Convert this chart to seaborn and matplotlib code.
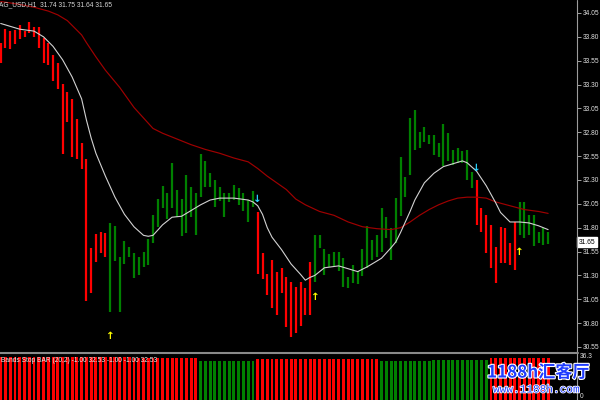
import numpy as np
import pandas as pd
import seaborn as sns
import matplotlib.pyplot as plt
from matplotlib.lines import Line2D
import matplotlib.patheffects as pe

# ---------------- data ----------------
symbol_text = "AG_USD,H1  31.74 31.75 31.64 31.65"
indicator_text = "Bands Stop BAR (20,2) -1.00 32.53 -1.00 -1.00 32.53"
last_price = 31.65

highs = [33.74, 33.88, 33.86, 33.87, 33.92, 33.86, 33.96, 33.90, 33.90, 33.79,
         33.74, 33.61, 33.53, 33.31, 33.22, 33.15, 32.94, 32.69, 32.52, 31.59,
         31.73, 31.75, 31.74, 31.85, 31.82, 31.49, 31.66, 31.60, 31.53, 31.49,
         31.55, 31.68, 31.93, 32.10, 32.24, 32.16, 32.48, 32.20, 32.10, 32.35,
         32.23, 32.16, 32.57, 32.50, 32.37, 32.30, 32.23, 32.16, 32.16, 32.25,
         32.22, 32.16, 32.09, 32.18, 31.96, 31.53, 31.32, 31.46, 31.34, 31.38,
         31.28, 31.23, 31.18, 31.23, 31.17, 31.44, 31.72, 31.72, 31.58, 31.52,
         31.55, 31.55, 31.48, 31.28, 31.41, 31.35, 31.58, 31.82, 31.67, 31.72,
         32.01, 31.91, 31.80, 32.11, 32.54, 32.33, 32.95, 33.03, 32.80, 32.86,
         32.77, 32.77, 32.69, 32.89, 32.79, 32.61, 32.64, 32.60, 32.61, 32.38,
         32.30, 32.01, 31.93, 31.83, 31.60, 31.81, 31.80, 31.64, 31.86, 32.07,
         32.07, 31.93, 31.93, 31.75, 31.80, 31.75]
lows = [33.53, 33.68, 33.67, 33.72, 33.78, 33.80, 33.84, 33.80, 33.68, 33.53,
        33.51, 33.34, 33.25, 32.57, 32.91, 32.54, 32.52, 32.42, 31.03, 31.12,
        31.44, 31.53, 31.49, 30.92, 31.45, 30.92, 31.42, 31.49, 31.27, 31.30,
        31.39, 31.41, 31.64, 31.81, 32.01, 31.89, 32.01, 31.91, 31.71, 31.74,
        31.91, 31.72, 32.12, 32.23, 32.23, 32.02, 32.08, 31.91, 32.07, 32.09,
        32.04, 31.97, 31.86, 32.02, 31.31, 31.26, 31.09, 30.96, 30.89, 31.12,
        30.76, 30.65, 30.70, 30.77, 30.89, 30.89, 31.23, 31.59, 31.30, 31.39,
        31.39, 31.35, 31.18, 31.17, 31.22, 31.21, 31.29, 31.38, 31.46, 31.49,
        31.55, 31.69, 31.46, 31.64, 31.92, 32.12, 32.35, 32.61, 32.63, 32.70,
        32.68, 32.56, 32.54, 32.45, 32.50, 32.46, 32.48, 32.48, 32.30, 32.22,
        31.83, 31.75, 31.53, 31.38, 31.22, 31.43, 31.43, 31.41, 31.36, 31.72,
        31.69, 31.72, 31.61, 31.64, 31.62, 31.63]
# trend state of each price bar (R = down / red, G = up / green)
bar_state = list("RRRRRRRRRRRRRRRRRRRRRRR"            # 0-22
                 "GGGGGGGGGGGGGGGGGGGGGGGGGGGGGGG"    # 23-53
                 "RRRRRRRRRRRR"                       # 54-65
                 "GGGGGGGGGGGGGGGGGGGGGGGGGGGGGGGGGG" # 66-99
                 "RRRRRRRRR"                          # 100-108
                 "GGGGGGG")                           # 109-115

# fast (white) moving average, read at bar indices
white_idx = [0, 4, 7, 9, 11, 13, 15, 17, 18, 19, 20, 22, 24, 26, 28, 30, 31, 32, 34, 36,
             38, 40, 42, 44, 46, 49, 52, 53, 54, 55, 56, 57, 59, 61, 63, 64, 65, 66, 68, 71,
             73, 75, 77, 80, 82, 83, 84, 85, 86, 87, 88, 89, 91, 93, 95, 97, 98, 100, 102, 104,
             105, 107, 109, 111, 113, 115]
white_ma = [33.94, 33.88, 33.86, 33.80, 33.70, 33.56, 33.38, 33.15, 32.93, 32.74,
            32.58, 32.34, 32.12, 31.94, 31.81, 31.72, 31.71, 31.72, 31.83, 31.91,
            31.92, 31.98, 32.04, 32.09, 32.11, 32.11, 32.09, 32.07, 32.03, 31.94,
            31.80, 31.70, 31.57, 31.42, 31.31, 31.25, 31.28, 31.30, 31.38, 31.40,
            31.37, 31.34, 31.39, 31.48, 31.59, 31.65, 31.75, 31.86, 31.97, 32.09,
            32.18, 32.27, 32.37, 32.44, 32.47, 32.50, 32.48, 32.39, 32.24, 32.06,
            31.96, 31.86, 31.86, 31.85, 31.82, 31.78]

# slow (dark red) moving average
red_idx = [0, 4, 7, 10, 12, 14, 16, 17, 18, 20, 22, 25, 28, 30, 32, 34, 37, 40, 43, 46,
           49, 52, 54, 56, 58, 60, 62, 64, 67, 70, 73, 76, 79, 82, 84, 86, 88, 90, 92, 94,
           96, 98, 100, 102, 104, 107, 110, 113, 115]
red_ma = [34.17, 34.14, 34.11, 34.07, 34.03, 33.97, 33.87, 33.82, 33.74, 33.59,
          33.45, 33.27, 33.06, 32.95, 32.84, 32.79, 32.73, 32.67, 32.62, 32.58,
          32.53, 32.49, 32.42, 32.34, 32.27, 32.20, 32.10, 32.04, 31.97, 31.93,
          31.86, 31.81, 31.79, 31.78, 31.80, 31.86, 31.93, 31.99, 32.04, 32.08,
          32.11, 32.12, 32.12, 32.11, 32.07, 32.03, 31.99, 31.97, 31.95]

# signal arrows
up_idx = [23, 66, 109]
up_price = [30.66, 31.07, 31.55]
down_idx = [54, 100]
down_price = [32.10, 32.43]

# lower indicator panel (Bands Stop BAR)
bottom_state = list("RRRRRRRRRRRRRRRRRRRRRRRRRRRRRRRRRRRRRRRRRR"  # 0-41
                    "GGGGGGGGGGGG"                                # 42-53
                    "RRRRRRRRRRRRRRRRRRRRRRRRRR"                  # 54-79
                    "GGGGGGGGGGGGGGGGGGGGGGG"                     # 80-102
                    "RRRRRRRRRRRRR")                              # 103-115
bottom_vals = [35.9, 35.9, 35.9, 35.9, 35.9, 35.9, 35.9, 35.9, 35.9, 35.9,
               35.9, 35.9, 35.9, 35.9, 35.4, 35.4, 35.4, 35.4, 35.4, 35.4,
               35.4, 35.4, 35.4, 35.4, 35.4, 35.4, 35.4, 35.4, 34.8, 34.8,
               34.8, 34.8, 34.8, 34.8, 34.8, 34.8, 34.8, 34.8, 34.8, 34.8,
               34.8, 34.8, 32.0, 32.0, 32.0, 32.0, 32.0, 32.0, 32.0, 32.0,
               32.0, 32.0, 32.0, 32.0, 34.2, 34.2, 34.2, 34.2, 34.2, 34.2,
               34.2, 34.2, 34.2, 34.2, 34.2, 34.2, 34.2, 34.2, 34.2, 34.2,
               34.2, 34.2, 34.2, 34.2, 34.2, 34.2, 34.2, 34.2, 34.2, 34.2,
               32.0, 32.0, 32.0, 32.0, 32.0, 32.0, 32.0, 32.0, 32.0, 32.0,
               32.0, 32.8, 32.8, 32.8, 32.8, 32.8, 32.8, 32.8, 32.8, 32.8,
               32.8, 32.8, 32.8, 34.8, 34.8, 34.8, 34.8, 34.8, 34.8, 34.8,
               34.8, 34.8, 34.8, 34.8, 34.8, 34.8]

price_ticks = [34.05, 33.80, 33.55, 33.30, 33.05, 32.80, 32.55, 32.30, 32.05,
               31.80, 31.55, 31.30, 31.05, 30.80, 30.55]
panel_ticks = ["36.3", "0"]
watermark_1 = "1188h汇客厅"
watermark_2 = "www.1188h.com"

# ---------------- styling ----------------
sns.set_theme(style="dark", rc={"axes.facecolor": "black", "figure.facecolor": "black",
                                "savefig.facecolor": "black"})
plt.rcParams["font.family"] = ["Liberation Sans", "DejaVu Sans"]

RED = "#ff0000"
GREEN = "#008000"
W, H = 600, 400
fig = plt.figure(figsize=(W / 100, H / 100), dpi=100)

def fx(px):
    return px / W

def fy(py):
    return 1 - py / H

ax = fig.add_axes([0, fy(351), fx(577), 351 / H])
axb = fig.add_axes([0, 0, fx(577), 45 / H])

XMIN, XMAX = -0.147, 121.07

# ---------------- main price panel ----------------
n = len(highs)
idx = np.arange(n)
cols = [RED if s == "R" else GREEN for s in bar_state]
ax.vlines(idx, lows, highs, colors=cols, linewidth=1.6, zorder=2)

ma_df = pd.DataFrame({"i": white_idx, "v": white_ma})
sns.lineplot(data=ma_df, x="i", y="v", ax=ax, color="#d2d2d2", linewidth=0.8,
             sort=False, estimator=None, zorder=4)
ma2_df = pd.DataFrame({"i": red_idx, "v": red_ma})
sns.lineplot(data=ma2_df, x="i", y="v", ax=ax, color="#a00000", linewidth=0.85,
             sort=False, estimator=None, zorder=3)

for i, p in zip(up_idx, up_price):
    ax.text(i, p, "↑", color="#ffff00", fontsize=7.5, fontweight="bold",
            ha="center", va="center", family="DejaVu Sans", zorder=5)
for i, p in zip(down_idx, down_price):
    ax.text(i, p, "↓", color="#2ad4ff", fontsize=7.5, fontweight="bold",
            ha="center", va="center", family="DejaVu Sans", zorder=5)

ax.set_xlim(XMIN, XMAX)
ax.set_ylim(30.508, 34.186)
ax.set_xticks([])
ax.yaxis.tick_right()
ax.set_yticks(price_ticks)
ax.set_yticklabels([f"{t:.2f}" for t in price_ticks])
ax.tick_params(axis="y", which="both", right=True, left=False, colors="#a0a0a0",
               labelcolor="#e0e0e0", length=3, width=0.7, pad=1.5, labelsize=4.8)
ax.set_xlabel("")
ax.set_ylabel("")
ax.grid(False)
for s in ax.spines.values():
    s.set_visible(False)

# current price label
ax.annotate(f"{last_price:.2f}", xy=(1.003, last_price), xycoords=("axes fraction", "data"),
            ha="left", va="center", fontsize=4.8, color="black",
            bbox=dict(boxstyle="square,pad=0.25", fc="white", ec="white"),
            annotation_clip=False, zorder=6)

# ---------------- lower indicator panel ----------------
bdf = pd.DataFrame({"i": idx, "v": bottom_vals,
                    "state": ["down" if s == "R" else "up" for s in bottom_state]})
sns.barplot(data=bdf, x="i", y="v", hue="state", palette={"down": RED, "up": GREEN},
            dodge=False, width=0.62, saturation=1, errorbar=None, legend=False, ax=axb)
axb.set_xlim(XMIN, XMAX)
axb.set_ylim(0, 37.3)
axb.set_xticks([])
axb.set_yticks([])
axb.set_xlabel("")
axb.set_ylabel("")
axb.grid(False)
for s in axb.spines.values():
    s.set_visible(False)
for p in axb.patches:
    p.set_edgecolor("none")

# ---------------- frame lines, texts ----------------
fig.add_artist(Line2D([fx(577), fx(577)], [0, 1], color="#9c9c9c", linewidth=0.8))
fig.add_artist(Line2D([0, fx(578)], [fy(353), fy(353)], color="#8a8a8a", linewidth=1.5))

fig.text(fx(-1), fy(5), symbol_text, color="#d8d8d8", fontsize=4.8, ha="left", va="center")
fig.text(fx(1), fy(360), indicator_text, color="#e8e8e8", fontsize=4.8, ha="left", va="center")
fig.text(fx(580), fy(357), panel_ticks[0], color="#e0e0e0", fontsize=4.8, ha="left", va="center")
fig.text(fx(580), fy(396), panel_ticks[1], color="#e0e0e0", fontsize=4.8, ha="left", va="center")

stroke = [pe.withStroke(linewidth=1.6, foreground="white")]
fig.text(fx(487), fy(377.5), watermark_1, color="#1f3cff", fontsize=12.3, fontweight="bold",
         ha="left", va="baseline", family=["Noto Sans CJK SC", "DejaVu Sans"],
         path_effects=stroke)
fig.text(fx(493), fy(392.5), watermark_2, color="#1f3cff", fontsize=8.0,
         ha="left", va="baseline", family=["Liberation Mono", "DejaVu Sans Mono"],
         path_effects=[pe.withStroke(linewidth=1.2, foreground="white")])

fig.savefig("out.png", dpi=100, facecolor="black")
